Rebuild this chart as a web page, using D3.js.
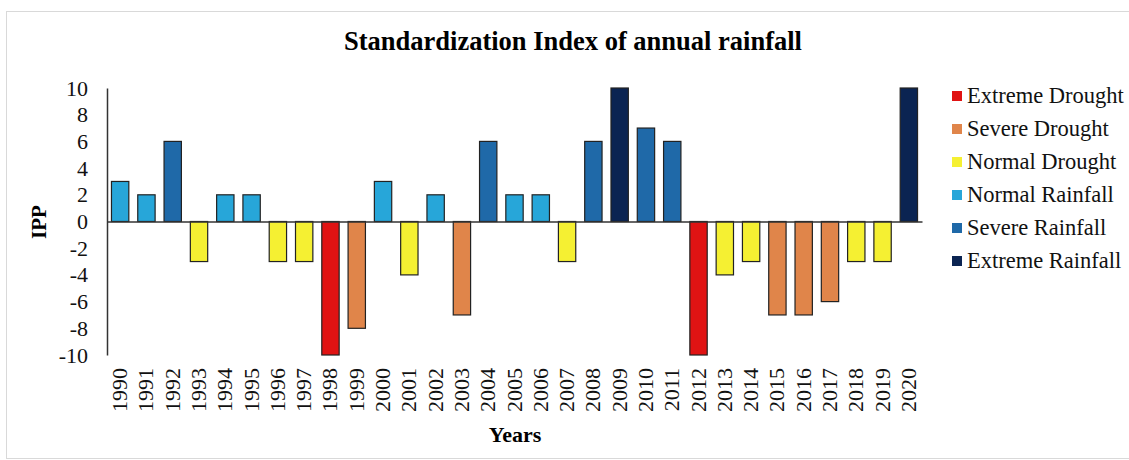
<!DOCTYPE html>
<html><head><meta charset="utf-8">
<script src="https://cdn.jsdelivr.net/npm/d3@7"></script>
<style>body{margin:0;background:#fff}svg{display:block}</style>
</head><body>
<svg id="c" width="1129" height="460"></svg>
<script>
const years = ["1990","1991","1992","1993","1994","1995","1996","1997","1998","1999","2000","2001","2002","2003","2004","2005","2006","2007","2008","2009","2010","2011","2012","2013","2014","2015","2016","2017","2018","2019","2020"];
const values = [3,2,6,-3,2,2,-3,-3,-10,-8,3,-4,2,-7,6,2,2,-3,6,10,7,6,-10,-4,-3,-7,-7,-6,-3,-3,10];
const classes = ["NR","NR","SR","ND","NR","NR","ND","ND","ED","SD","NR","ND","NR","SD","SR","NR","NR","ND","SR","ER","SR","SR","ED","ND","ND","SD","SD","SD","ND","ND","ER"];
const classKeys = ["ED","SD","ND","NR","SR","ER"];
const classNames = ["Extreme Drought","Severe Drought","Normal Drought","Normal Rainfall","Severe Rainfall","Extreme Rainfall"];
const classColors = ["#e01313","#e0854a","#f5f032","#27a6d9","#1f69a8","#0b2452"];
const yTicks = [10,8,6,4,2,0,-2,-4,-6,-8,-10];

const svg = d3.select("#c");
const font = "'Liberation Serif','Times New Roman',serif";
svg.append("rect").attr("x",6.5).attr("y",11.5).attr("width",1140).attr("height",447)
  .attr("fill","#fff").attr("stroke","#d9d9d9");

const x = d3.scaleBand().domain(years).range([107,922]).paddingInner(0.34).paddingOuter(0.17);
const y = d3.scaleLinear().domain([-10,10]).range([355,88]);
const color = d3.scaleOrdinal().domain(classKeys).range(classColors);

svg.append("text").attr("x",573).attr("y",50).attr("text-anchor","middle")
  .attr("font-family",font).attr("font-weight","bold").attr("font-size",26.5).text("Standardization Index of annual rainfall");

// bars
svg.append("g").selectAll("rect").data(years).join("rect")
  .attr("x",d=>x(d))
  .attr("width",x.bandwidth())
  .attr("y",(d,i)=>y(Math.max(0,values[i])))
  .attr("height",(d,i)=>Math.abs(y(values[i])-y(0)))
  .attr("fill",(d,i)=>color(classes[i]))
  .attr("stroke","#222").attr("stroke-width",1.2);

// y axis
const ya = svg.append("g").attr("transform","translate(107,0)")
  .call(d3.axisLeft(y).tickValues(yTicks).tickSize(0).tickPadding(19).tickFormat(d=>String(d)));
ya.select(".domain").attr("stroke","#333").attr("stroke-width",1.5);
ya.selectAll("text").attr("font-family",font).attr("font-size",22).attr("fill","#111");

// x axis at zero
const xa = svg.append("g").attr("transform",`translate(0,${y(0)})`)
  .call(d3.axisBottom(x).tickSize(0).tickFormat(()=>""));
xa.select(".domain").attr("stroke","#333").attr("stroke-width",1.5);

// x labels rotated
svg.append("g").selectAll("text").data(years).join("text")
  .attr("transform",d=>`translate(${x(d)+x.bandwidth()/2+7},368) rotate(-90)`)
  .attr("text-anchor","end").attr("font-family",font).attr("font-size",22).attr("fill","#111").text(d=>d);

svg.append("text").attr("transform","translate(46,222) rotate(-90)").attr("text-anchor","middle")
  .attr("font-family",font).attr("font-weight","bold").attr("font-size",21).text("IPP");
svg.append("text").attr("x",515).attr("y",442).attr("text-anchor","middle")
  .attr("font-family",font).attr("font-weight","bold").attr("font-size",22).text("Years");

// legend
const lg = svg.append("g").selectAll("g").data(classKeys).join("g")
  .attr("transform",(d,i)=>`translate(952,${96+i*33})`);
lg.append("rect").attr("x",0).attr("y",-5).attr("width",10).attr("height",10).attr("fill",d=>color(d));
lg.append("text").attr("x",15).attr("y",7).attr("font-family",font).attr("font-size",22.5).attr("fill","#111")
  .text((d,i)=>classNames[i]);
</script>
</body></html>
